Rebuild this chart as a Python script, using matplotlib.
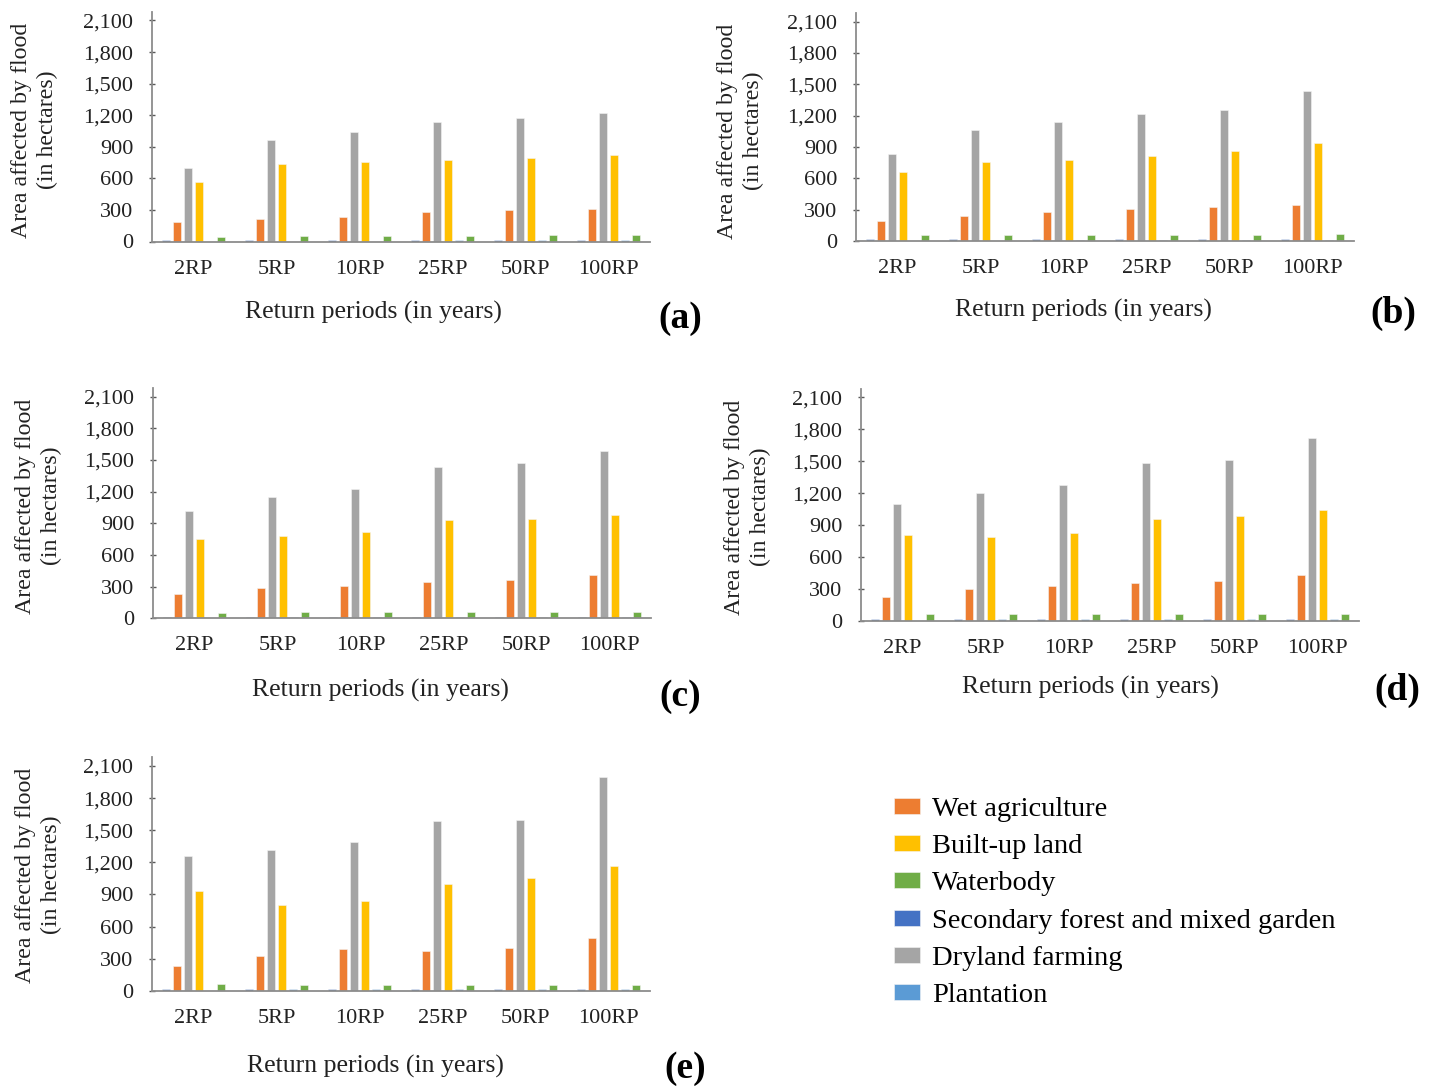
import matplotlib
matplotlib.use("Agg")
import matplotlib.pyplot as plt
import numpy as np

plt.rcParams['font.family'] = ['Liberation Serif', 'DejaVu Serif']

W, H = 1436, 1091

categories = ["2RP", "5RP", "10RP", "25RP", "50RP", "100RP"]
panel_labels = ["(a)", "(b)", "(c)", "(d)", "(e)"]
yticks = [0, 300, 600, 900, 1200, 1500, 1800, 2100]

# values per panel (a..e), per return period
secondary_forest = [
    [15, 15, 15, 15, 15, 15],
    [15, 15, 15, 15, 15, 15],
    [15, 15, 15, 15, 15, 15],
    [15, 15, 15, 15, 15, 15],
    [15, 15, 15, 15, 15, 15],
]
wet_agriculture = [
    [189, 215, 237, 281, 297, 306],
    [193, 244, 282, 305, 327, 347],
    [227, 287, 303, 347, 363, 407],
    [223, 298, 329, 351, 373, 433],
    [228, 322, 391, 369, 397, 494],
]
dryland_farming = [
    [701, 966, 1042, 1134, 1175, 1222],
    [834, 1059, 1136, 1213, 1252, 1441],
    [1017, 1153, 1222, 1437, 1468, 1582],
    [1097, 1204, 1279, 1486, 1508, 1721],
    [1263, 1316, 1391, 1584, 1591, 1994],
]
built_up = [
    [568, 739, 758, 771, 793, 821],
    [661, 761, 777, 815, 860, 934],
    [755, 780, 815, 935, 941, 976],
    [806, 784, 821, 956, 981, 1041],
    [928, 803, 838, 1000, 1056, 1166],
]
plantation = [
    [0, 0, 0, 13, 13, 13],
    [0, 0, 13, 13, 13, 13],
    [0, 13, 13, 13, 13, 13],
    [0, 13, 13, 13, 13, 13],
    [0, 13, 13, 13, 13, 13],
]
waterbody = [
    [47, 57, 57, 57, 63, 63],
    [58, 58, 58, 58, 58, 67],
    [54, 60, 60, 60, 60, 60],
    [60, 60, 60, 60, 60, 60],
    [59, 53, 53, 53, 53, 53],
]

series = [
    ("Secondary forest and mixed garden", secondary_forest, "#4472C4"),
    ("Wet agriculture", wet_agriculture, "#ED7D31"),
    ("Dryland farming", dryland_farming, "#A5A5A5"),
    ("Built-up land", built_up, "#FFC000"),
    ("Plantation", plantation, "#5B9BD5"),
    ("Waterbody", waterbody, "#70AD47"),
]

# panel geometry in pixels: x of y-axis, y of value 0, y of value 2100
geom = [
    (152, 241.5, 20.5),
    (856, 241.0, 21.7),
    (153, 618.3, 396.6),
    (861, 620.7, 397.4),
    (152, 990.7, 766.0),
]
ytop = 2180
axw_px = 498

# text positions
xlabel_pos = [(373, 312), (1083, 310), (380, 690), (1090, 687), (375, 1066)]
ylabel_pos = [(35, 130), (741, 131), (39, 506), (748, 507), (39, 875)]
plabel_pos = [(680, 318), (1393, 313), (680, 697), (1397, 690), (685, 1069)]

fig = plt.figure(figsize=(W / 100, H / 100), dpi=100)

x = np.arange(len(categories))
step = 0.1325
bw = 0.095
handles = {}
for p in range(5):
    x0, y0, y21 = geom[p]
    ppu = (y0 - y21) / 2100.0
    ax = fig.add_axes([x0 / W, 1 - y0 / H, axw_px / W, ytop * ppu / H])
    for i, (name, vals, col) in enumerate(series):
        b = ax.bar(x + (i - 2.5) * step, vals[p], width=bw, color=col,
                   edgecolor="#f4f4f4", linewidth=0.4, label=name)
        handles[name] = b
    ax.set_xlim(-0.5, 5.5)
    ax.set_ylim(0, ytop)
    ax.set_yticks(yticks)
    ax.set_yticklabels([f"{v:,}" for v in yticks])
    ax.set_xticks(x)
    ax.set_xticklabels(categories)
    for s in ["top", "right"]:
        ax.spines[s].set_visible(False)
    for s in ["left", "bottom"]:
        ax.spines[s].set_color("#8c8c8c")
        ax.spines[s].set_linewidth(1.3)
    ax.tick_params(axis="y", direction="inout", length=5, width=1, color="#595959",
                   labelsize=16, pad=11, labelcolor="#222222")
    ax.tick_params(axis="x", length=0, labelsize=16, pad=13, labelcolor="#222222")
    fig.text(xlabel_pos[p][0] / W, 1 - xlabel_pos[p][1] / H, "Return periods (in years)",
             ha="center", va="center", fontsize=18.5, color="#222222")
    fig.text(ylabel_pos[p][0] / W, 1 - ylabel_pos[p][1] / H,
             "Area affected by flood\n(in hectares)", rotation=90,
             ha="center", va="center", multialignment="center",
             fontsize=17.2, color="#222222", linespacing=1.3)
    fig.text(plabel_pos[p][0] / W, 1 - plabel_pos[p][1] / H, panel_labels[p],
             ha="center", va="center", fontsize=27, fontweight="bold")

legend_order = ["Wet agriculture", "Built-up land", "Waterbody",
                "Secondary forest and mixed garden", "Dryland farming", "Plantation"]
fig.legend([handles[n] for n in legend_order], legend_order,
           loc="upper left", bbox_to_anchor=(894 / W, 1 - 797 / H),
           frameon=False, fontsize=20.5, handlelength=0.9, handleheight=0.5,
           handletextpad=0.45, labelspacing=0.43, borderaxespad=0, borderpad=0)

fig.savefig("out.png", dpi=100)
